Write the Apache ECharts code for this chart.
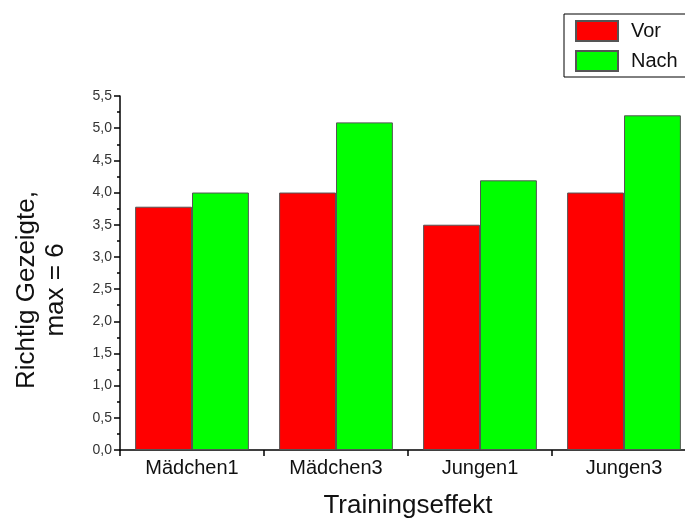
<!DOCTYPE html>
<html>
<head>
<meta charset="utf-8">
<script src="https://cdn.jsdelivr.net/npm/echarts@6/dist/echarts.min.js"></script>
<style>
html,body{margin:0;padding:0;background:#fff;}
#chart{width:685px;height:518px;}
</style>
</head>
<body>
<div id="chart"></div>
<script>
var categories = ['Mädchen1', 'Mädchen3', 'Jungen1', 'Jungen3'];
var vorValues = [3.78, 4.0, 3.5, 4.0];
var nachValues = [4.0, 5.09, 4.19, 5.2];
var seriesNames = ['Vor', 'Nach'];
var yTicks = { min: 0, max: 5.5, interval: 0.5 };

var chart = echarts.init(document.getElementById('chart'), null, {renderer: 'canvas'});
var font = 'Liberation Sans, Arial, sans-serif';
chart.setOption({
  animation: false,
  backgroundColor: '#fff',
  textStyle: { fontFamily: font },
  legend: {
    data: seriesNames,
    orient: 'vertical',
    left: 564,
    top: 14,
    padding: [6, 30, 5, 11],
    itemWidth: 42,
    itemHeight: 20,
    itemGap: 8,
    borderColor: '#000',
    borderWidth: 1,
    borderRadius: 0,
    icon: 'rect',
    textStyle: { fontSize: 20, color: '#111', fontFamily: font, padding: [0, 0, 0, 8] }
  },
  grid: { left: 120, top: 96, width: 576, height: 354, containLabel: false, outerBoundsMode: 'none' },
  xAxis: {
    type: 'category',
    data: categories,
    name: 'Trainingseffekt',
    nameLocation: 'middle',
    nameGap: 43,
    nameTextStyle: { fontSize: 26, color: '#111', fontFamily: font },
    axisLine: { lineStyle: { color: '#000', width: 1.5 } },
    axisTick: { show: true, length: 6, lineStyle: { color: '#000', width: 1.5 } },
    axisLabel: { fontSize: 20, color: '#111', margin: 8, fontFamily: font },
    splitLine: { show: false }
  },
  yAxis: {
    type: 'value',
    min: yTicks.min,
    max: yTicks.max,
    interval: yTicks.interval,
    name: 'Richtig Gezeigte,\nmax = 6',
    nameLocation: 'middle',
    nameRotate: 90,
    nameGap: 50,
    nameTextStyle: { fontSize: 26, color: '#111', lineHeight: 29, fontFamily: font, align: 'center', padding: [0, 34, 0, 0] },
    axisLine: { show: true, lineStyle: { color: '#000', width: 1.5 } },
    axisTick: { show: true, length: 6, lineStyle: { color: '#000', width: 1.5 } },
    minorTick: { show: true, splitNumber: 2, length: 3, lineStyle: { color: '#000', width: 1.5 } },
    axisLabel: {
      fontSize: 14, color: '#333', margin: 8, fontFamily: font,
      formatter: function (v) { return v.toFixed(1).replace('.', ','); }
    },
    splitLine: { show: false }
  },
  series: [
    {
      name: seriesNames[0], type: 'bar', data: vorValues,
      barGap: '0%', barCategoryGap: '21%',
      itemStyle: { color: '#ff0000', borderColor: '#555', borderWidth: 1 }
    },
    {
      name: seriesNames[1], type: 'bar', data: nachValues,
      barGap: '0%', barCategoryGap: '21%',
      itemStyle: { color: '#00ff00', borderColor: '#555', borderWidth: 1 }
    }
  ]
});
</script>
</body>
</html>
